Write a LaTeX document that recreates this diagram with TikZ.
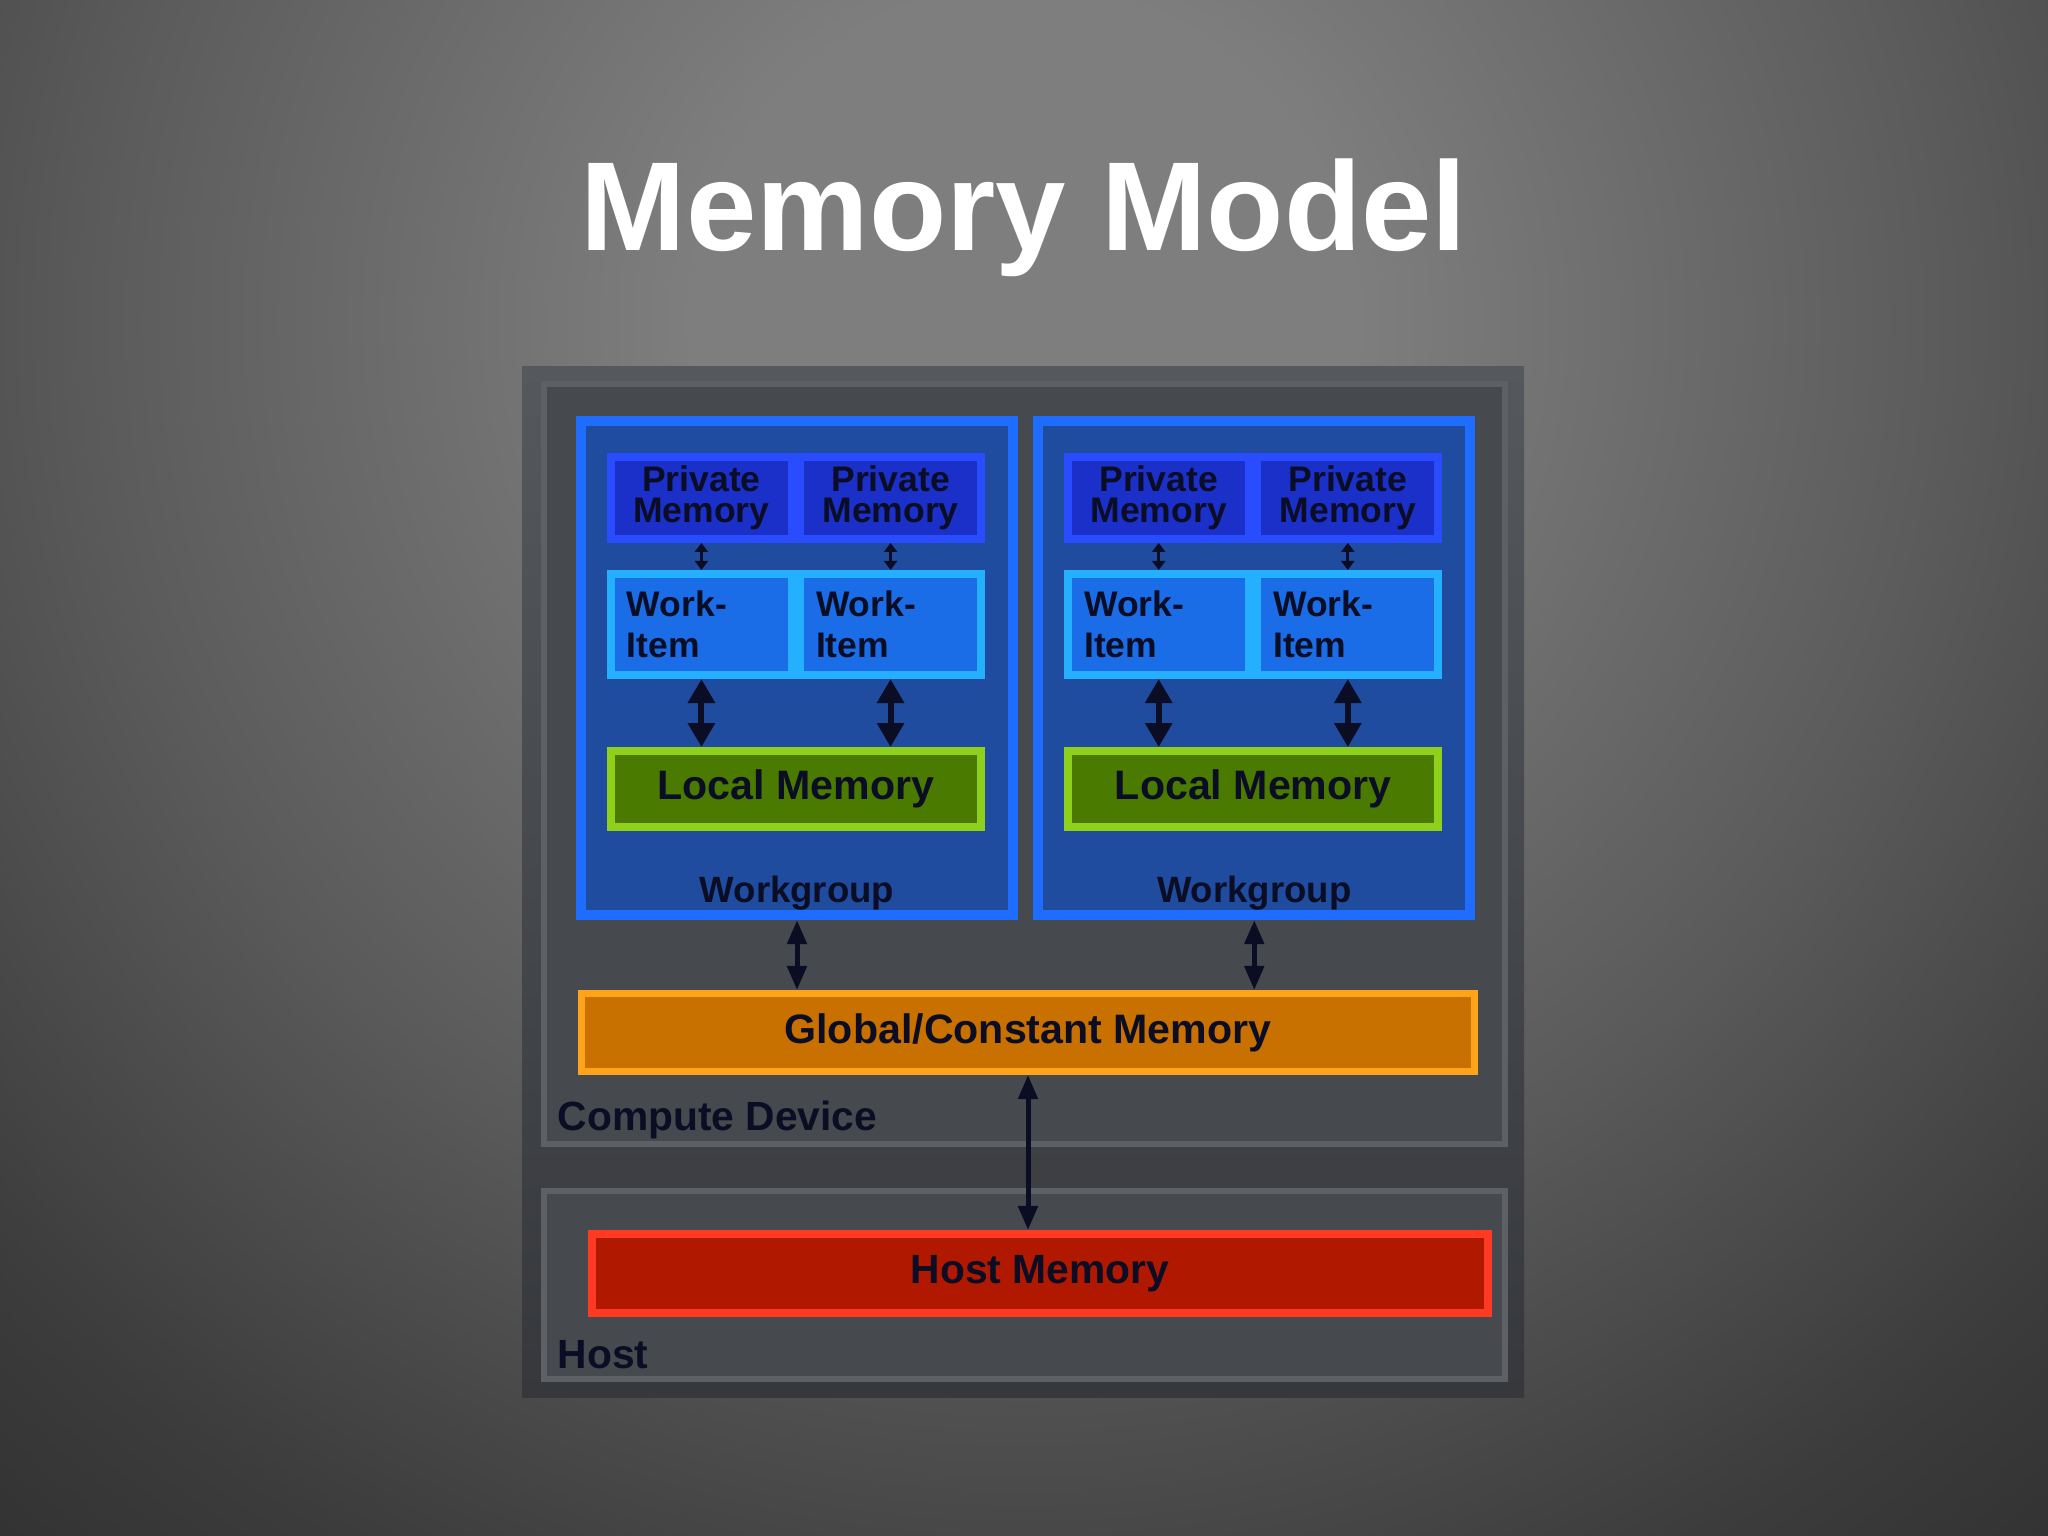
\documentclass[tikz,border=0pt]{standalone}
\usepackage{fontspec}
\setmainfont{Liberation Sans}
\usetikzlibrary{arrows.meta, positioning, calc}

\definecolor{glowA}{HTML}{7E7E7E}
\definecolor{glowB}{HTML}{5B5B5B}
\definecolor{glowC}{HTML}{3C3C3C}
\definecolor{glowD}{HTML}{303030}
\definecolor{panelA}{HTML}{55585C}
\definecolor{panelB}{HTML}{36383C}
\definecolor{frameline}{HTML}{5D6166}
\definecolor{framefill}{HTML}{46494D}
\definecolor{ink}{HTML}{0B0D24}
\definecolor{wgline}{HTML}{1F6DFF}
\definecolor{wgfill}{HTML}{1F4C9E}
\definecolor{pmline}{HTML}{2A4CFF}
\definecolor{pmfill}{HTML}{1A30C8}
\definecolor{wiline}{HTML}{25B0FF}
\definecolor{wifill}{HTML}{1A6DE6}
\definecolor{lmline}{HTML}{8FD01A}
\definecolor{lmfill}{HTML}{4A7A00}
\definecolor{gmline}{HTML}{FFA31A}
\definecolor{gmfill}{HTML}{C87000}
\definecolor{hmline}{HTML}{FF3A22}
\definecolor{hmfill}{HTML}{B01800}

\pgfdeclareradialshading{slideglow}{\pgfpoint{0bp}{0bp}}{%
    color(0bp)=(glowA); color(5bp)=(glowA); color(14bp)=(glowB);
    color(21bp)=(glowC); color(25bp)=(glowD); color(50bp)=(glowD)}

\tikzset{
    block/.style={
        rectangle,
        draw,
        inner sep=0pt,
        text=ink,
        font=\bfseries
    },
    frame/.style={
        rectangle,
        draw=frameline,
        fill=framefill,
        line width=0.06cm,
        minimum width=9.61cm
    },
    workgroup/.style={
        block,
        draw=wgline,
        fill=wgfill,
        line width=0.10cm,
        minimum width=4.32cm,
        minimum height=4.94cm
    },
    privmem/.style={
        block,
        draw=pmline,
        fill=pmfill,
        line width=0.08cm,
        minimum width=1.81cm,
        minimum height=0.82cm,
        align=center,
        font=\bfseries\fontsize{10.1pt}{8.6pt}\selectfont
    },
    workitem/.style={
        block,
        draw=wiline,
        fill=wifill,
        line width=0.08cm,
        text width=1.49cm,
        inner xsep=0.16cm,
        minimum height=1.01cm,
        align=left,
        font=\bfseries\fontsize{10.1pt}{11.7pt}\selectfont
    },
    localmem/.style={
        block,
        draw=lmline,
        fill=lmfill,
        line width=0.08cm,
        minimum width=3.70cm,
        minimum height=0.76cm,
        font=\bfseries\fontsize{11.7pt}{13pt}\selectfont
    },
    globalmem/.style={
        block,
        draw=gmline,
        fill=gmfill,
        line width=0.07cm,
        minimum width=8.93cm,
        minimum height=0.78cm,
        font=\bfseries\fontsize{11.7pt}{13pt}\selectfont
    },
    hostmem/.style={
        block,
        draw=hmline,
        fill=hmfill,
        line width=0.08cm,
        minimum width=8.96cm,
        minimum height=0.79cm,
        font=\bfseries\fontsize{11.6pt}{13pt}\selectfont
    },
    wglabel/.style={
        text=ink,
        inner sep=0pt,
        font=\bfseries\fontsize{10.4pt}{12pt}\selectfont
    },
    framelabel/.style={
        text=ink,
        inner sep=0pt,
        font=\bfseries\fontsize{11.6pt}{13pt}\selectfont
    },
    title/.style={
        text=white,
        inner sep=0pt,
        font=\bfseries\fontsize{36pt}{40pt}\selectfont
    },
    smallarrow/.style={
        draw=ink,
        line width=0.03cm,
        {Triangle[width=0.13cm,length=0.09cm]}-{Triangle[width=0.13cm,length=0.09cm]}
    },
    bigarrow/.style={
        draw=ink,
        line width=0.06cm,
        {Triangle[width=0.26cm,length=0.24cm]}-{Triangle[width=0.26cm,length=0.24cm]}
    },
    linkarrow/.style={
        draw=ink,
        line width=0.05cm,
        {Triangle[width=0.19cm,length=0.24cm]}-{Triangle[width=0.19cm,length=0.24cm]}
    },
}

\begin{document}
\begin{tikzpicture}[x=0.01cm, y=-0.01cm]

\useasboundingbox (0,0) rectangle (2048,1536);

% Background
\begin{scope}
    \clip (0,0) rectangle (2048,1536);
    \shade[shading=slideglow] (1024,320) circle (16.5cm);
\end{scope}

% Title
\node[title, anchor=base] (title) at (1024,250) {Memory Model};

% Panel
\shade[top color=panelA, bottom color=panelB] (522,366) rectangle (1524,1397);

% Compute device and host frames
\node[frame, minimum height=7.60cm] (CD) at (1024.5,764) {};
\node[frame, minimum height=1.88cm] (HF) at (1024.5,1285) {};

% Workgroup 1
\node[workgroup] (WG1) at (797,668) {};

% Workgroup 2
\node[workgroup, right=0.15cm of WG1] (WG2) {};

% Private memories
\node[privmem, below right=0.37cm and 0.31cm of WG1.north west] (PM1a) {Private\\Memory};
\node[privmem, right=0cm of PM1a] (PM1b) {Private\\Memory};
\node[privmem, below right=0.37cm and 0.31cm of WG2.north west] (PM2a) {Private\\Memory};
\node[privmem, right=0cm of PM2a] (PM2b) {Private\\Memory};

% Work-items
\node[workitem, below=0.27cm of PM1a] (WI1a) {Work-\\Item};
\node[workitem, below=0.27cm of PM1b] (WI1b) {Work-\\Item};
\node[workitem, below=0.27cm of PM2a] (WI2a) {Work-\\Item};
\node[workitem, below=0.27cm of PM2b] (WI2b) {Work-\\Item};

% Local memories
\node[localmem, below=0.68cm of WI1a.south east] (LM1) {Local Memory};
\node[localmem, below=0.68cm of WI2a.south east] (LM2) {Local Memory};

% Workgroup labels
\node[wglabel, anchor=base] (WGL1) at ([yshift=0.18cm]WG1.south) {Workgroup};
\node[wglabel, anchor=base] (WGL2) at ([yshift=0.18cm]WG2.south) {Workgroup};

% Global/constant memory
\node[globalmem] (GM) at (1028,1032.5) {Global/Constant Memory};

% Host memory
\node[hostmem] (HM) at (1040,1273.5) {Host Memory};

% Frame labels
\node[framelabel, anchor=base west] (CDL) at (557,1130) {Compute Device};
\node[framelabel, anchor=base west] (HL) at (557,1368) {Host};

% Arrows
\draw[smallarrow] (PM1a) -- (WI1a);
\draw[smallarrow] (PM1b) -- (WI1b);
\draw[smallarrow] (PM2a) -- (WI2a);
\draw[smallarrow] (PM2b) -- (WI2b);

\draw[bigarrow] (WI1a.south) -- (WI1a.south |- LM1.north);
\draw[bigarrow] (WI1b.south) -- (WI1b.south |- LM1.north);
\draw[bigarrow] (WI2a.south) -- (WI2a.south |- LM2.north);
\draw[bigarrow] (WI2b.south) -- (WI2b.south |- LM2.north);

\draw[linkarrow] (WG1.south) -- (WG1.south |- GM.north);
\draw[linkarrow] (WG2.south) -- (WG2.south |- GM.north);
\draw[linkarrow] (GM.south) -- (GM.south |- HM.north);

\end{tikzpicture}
\end{document}
